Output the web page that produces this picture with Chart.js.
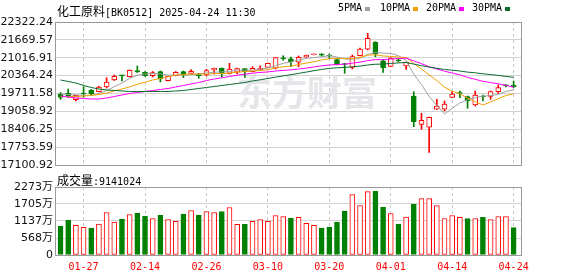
<!DOCTYPE html>
<html>
<head>
<meta charset="utf-8">
<script src="https://cdn.jsdelivr.net/npm/chart.js@4.4.1/dist/chart.umd.min.js"></script>
<style>
body { margin: 0; background: #fff; }
#wrap { position: relative; width: 578px; height: 276px; overflow: hidden; }
canvas { position: absolute; left: 0; }
.txt { position: absolute; white-space: nowrap; color: #000; line-height: 12px; z-index: 2; }
.cjk { font: 12px "Noto Sans CJK SC"; }
.mono { font: 10px "DejaVu Sans Mono"; }
.sq { position: absolute; width: 5px; height: 4px; z-index: 2; }
</style>
</head>
<body>
<div id="wrap">
    <canvas id="klineChart" width="578" height="176" style="top:0"></canvas>
    <canvas id="volumeChart" width="578" height="104" style="top:172px"></canvas>

    <div class="txt" style="left:57px;top:2px"><span class="cjk">化工原料</span><span class="mono">[BK0512] 2025-04-24 11:30</span></div>
    <div class="txt mono" style="left:338px;top:2px">5PMA</div>
    <div class="sq" style="left:365px;top:7px;background:#a0a0a0"></div>
    <div class="txt mono" style="left:380px;top:2px">10PMA</div>
    <div class="sq" style="left:413px;top:7px;background:#f0a000"></div>
    <div class="txt mono" style="left:426px;top:2px">20PMA</div>
    <div class="sq" style="left:459px;top:7px;background:#ff00ff"></div>
    <div class="txt mono" style="left:472px;top:2px">30PMA</div>
    <div class="sq" style="left:505px;top:7px;background:#0a6a30"></div>

    <div class="txt" style="left:57px;top:171px"><span class="cjk">成交量</span><span class="mono">:9141024</span></div>
</div>

<script>
const dates = ['01-22','01-23','01-24','01-27','02-05','02-06','02-07','02-10','02-11','02-12',
    '02-13','02-14','02-17','02-18','02-19','02-20','02-21','02-24','02-25','02-26',
    '02-27','02-28','03-03','03-04','03-05','03-06','03-07','03-10','03-11','03-12',
    '03-13','03-14','03-17','03-18','03-19','03-20','03-21','03-24','03-25','03-26',
    '03-27','03-28','03-31','04-01','04-02','04-03','04-07','04-08','04-09','04-10',
    '04-11','04-14','04-15','04-16','04-17','04-18','04-21','04-22','04-23','04-24'];

const openPrices = [19694,19719,19486,19694,19829,19778,19949,20205,20380,20325,
    20544,20497,20362,20508,20179,20362,20508,20449,20387,20387,
    20570,20632,20449,20486,20617,20508,20570,20668,20632,20980,
    20982,20851,21045,21125,21154,21118,20946,20789,20668,21092,
    21326,21592,20909,20698,20935,20716,19620,18587,18478,19135,
    19135,19573,19712,19602,19292,19602,19602,19778,19990,20022];
const highPrices = [19748,19876,19657,19960,19858,19986,20289,20387,20387,20570,
    20716,20515,20515,20533,20351,20515,20533,20581,20449,20595,
    20643,20643,20814,20643,20625,20690,20727,20826,21026,21092,
    21045,21081,21118,21154,21172,21154,20990,20814,21118,21373,
    21910,21603,20935,21019,20990,20862,19778,18989,18854,19500,
    19438,19778,19803,19620,19803,19657,19803,20022,20033,20168];
const lowPrices = [19493,19559,19438,19573,19657,19767,19913,20186,20168,20314,
    20479,20333,20314,20132,20168,20351,20289,20442,20267,20351,
    20424,20314,20424,20424,20303,20497,20552,20661,20606,20924,
    20690,20690,21026,21117,21081,20997,20752,20449,20606,21081,
    21300,21056,20479,20690,20862,20595,18500,18405,17558,19128,
    19073,19566,19559,19172,19256,19438,19500,19719,19949,19924];
const closePrices = [19566,19595,19646,19694,19694,19949,20132,20340,20358,20559,
    20497,20362,20471,20241,20340,20486,20387,20522,20362,20544,
    20632,20449,20606,20617,20508,20632,20643,20814,21019,20980,
    20873,21034,21107,21147,21107,21081,20763,20771,21056,21337,
    21727,21154,20654,21008,20909,20851,18682,18733,18843,19256,
    19321,19694,19712,19438,19657,19584,19785,19924,19990,19960];

const ma5 = [19694,19675,19657,19650,19639,19716,19821,19960,20095,20267,
    20376,20424,20449,20427,20384,20380,20384,20395,20420,20460,
    20490,20500,20519,20570,20563,20563,20603,20643,20723,20814,
    20862,20939,20997,21023,21052,21096,21041,20975,20957,21001,
    21132,21209,21187,21176,21092,20917,20420,20037,19602,19274,
    18967,19168,19365,19482,19562,19617,19635,19679,19785,19847];
const ma10 = [19602,19602,19602,19621,19639,19675,19730,19803,19876,19953,
    20048,20124,20205,20260,20325,20380,20406,20424,20424,20420,
    20435,20442,20457,20493,20511,20526,20552,20581,20647,20687,
    20712,20771,20822,20873,20935,20979,20990,20986,20990,21026,
    21114,21125,21081,21066,21044,21023,20814,20610,20391,20183,
    19942,19796,19701,19544,19416,19292,19402,19522,19635,19705];
const ma20 = [19621,19584,19548,19529,19511,19511,19548,19602,19657,19712,
    19748,19785,19821,19858,19894,19949,20004,20059,20113,20186,
    20241,20283,20333,20376,20417,20453,20479,20500,20533,20555,
    20574,20606,20639,20683,20723,20752,20771,20783,20818,20858,
    20913,20948,20950,20970,20990,21001,20902,20800,20690,20605,
    20526,20460,20391,20303,20230,20157,20110,20066,20011,19942];
const ma30 = [20205,20150,20095,20004,19931,19876,19840,19821,19803,19785,
    19785,19785,19785,19785,19785,19803,19821,19858,19894,19931,
    19967,20004,20040,20077,20113,20168,20212,20260,20307,20354,
    20398,20446,20493,20544,20590,20628,20650,20665,20687,20712,
    20752,20780,20785,20811,20829,20844,20785,20727,20676,20632,
    20588,20563,20533,20493,20466,20431,20402,20373,20336,20303];

// volume in 万
const volumes = [965,1165,988,922,899,1032,1421,1098,1198,1354,
    1398,1298,1221,1331,1188,1122,1364,1488,1331,1454,
    1421,1454,1587,1022,1022,1122,1188,1122,1321,1288,
    1231,1255,1055,988,899,932,1098,1464,2020,1654,
    2120,2130,1597,1388,1032,1265,1697,1887,1887,1654,
    1221,1321,1255,1221,1221,1255,1188,1288,1288,914.1024];

const priceTicks = [17100.92, 17753.59, 18406.25, 19058.92, 19711.58, 20364.24, 21016.91, 21669.57, 22322.24];
const volumeTicks = [0, 568, 1137, 1705, 2273];
const dateTicks = ['01-27', '02-14', '02-26', '03-10', '03-20', '04-01', '04-14', '04-24'];

const RED = '#ff0000';
const GREEN = '#008000';
const axisFont = { family: "'DejaVu Sans', 'Noto Sans CJK SC'", size: 11 };

function xScale(showLabels) {
    return {
        type: 'linear',
        min: -0.59,
        max: 60.09,
        offset: false,
        grid: { color: '#c8c8c8', drawTicks: false, offset: false },
        border: { display: false, dash: [3, 3] },
        ticks: {
            display: showLabels,
            autoSkip: false,
            maxRotation: 0,
            padding: 6,
            color: RED,
            font: { family: "'DejaVu Sans Mono'", size: 10 },
            callback: v => dates[v]
        },
        afterBuildTicks: axis => { axis.ticks = dateTicks.map(d => ({ value: dates.indexOf(d) })); },
        afterFit: axis => { axis.height = showLabels ? 21 : 0; }
    };
}

function yScale(min, max, ticks, fmt) {
    return {
        position: 'left',
        min: min,
        max: max,
        grid: { color: '#d4d4d4', drawTicks: false },
        border: { display: false },
        ticks: { padding: 3, color: '#111', font: axisFont, callback: fmt },
        afterBuildTicks: axis => { axis.ticks = ticks.map(v => ({ value: v })); },
        afterFit: axis => { axis.width = 56; }
    };
}

const framePlugin = {
    id: 'frame',
    afterDraw(chart) {
        const { ctx, chartArea: a } = chart;
        ctx.save();
        ctx.strokeStyle = '#999';
        ctx.lineWidth = 1;
        ctx.strokeRect(Math.round(a.left) - 0.5, Math.round(a.top) + 0.5,
            Math.round(a.right - a.left), Math.round(a.bottom - a.top));
        ctx.restore();
    }
};

const watermarkPlugin = {
    id: 'watermark',
    beforeDatasetsDraw(chart) {
        const ctx = chart.ctx;
        ctx.save();
        ctx.fillStyle = '#e6e6ea';
        ctx.font = 'bold 35px "Noto Sans CJK SC"';
        ctx.textBaseline = 'middle';
        ctx.fillText('东方财富', 237, 93);
        ctx.restore();
    }
};

function createChart(canvasId, config) {
    const canvas = document.getElementById(canvasId);
    if (canvas && typeof Chart !== 'undefined') {
        const ctx = canvas.getContext('2d');
        if (ctx) return new Chart(ctx, config);
    }
    return null;
}

const isUp = closePrices.map((c, i) => c > openPrices[i]);
const volUp = closePrices.map((c, i) => c >= openPrices[i]);

function maLine(values, color) {
    return {
        type: 'line',
        data: values.map((v, i) => ({ x: i, y: v })),
        borderColor: color,
        borderWidth: 1,
        pointRadius: 0,
        tension: 0,
        order: 1
    };
}

createChart('klineChart', {
    type: 'bar',
    data: {
        datasets: [
            {
                data: dates.map((d, i) => ({ x: i, y: [lowPrices[i], highPrices[i]] })),
                backgroundColor: isUp.map(u => u ? RED : GREEN),
                barThickness: 1,
                grouped: false,
                order: 3
            },
            {
                data: dates.map((d, i) => ({ x: i, y: [openPrices[i], closePrices[i]] })),
                backgroundColor: isUp.map(u => u ? '#fff' : GREEN),
                borderColor: isUp.map(u => u ? RED : GREEN),
                borderWidth: 1,
                borderSkipped: false,
                barThickness: 5,
                minBarLength: 1,
                grouped: false,
                order: 2
            },
            maLine(ma30, '#0a6a30'),
            maLine(ma20, '#ff00ff'),
            maLine(ma10, '#f0a000'),
            maLine(ma5, '#a0a0a0')
        ]
    },
    options: {
        responsive: false,
        animation: false,
        devicePixelRatio: 1,
        layout: { padding: { left: 0, right: 56, top: 22, bottom: 11 } },
        plugins: { legend: { display: false }, tooltip: { enabled: false } },
        scales: {
            x: xScale(false),
            y: yScale(17100.92, 22322.24, priceTicks, v => v.toFixed(2))
        }
    },
    plugins: [watermarkPlugin, framePlugin]
});

createChart('volumeChart', {
    type: 'bar',
    data: {
        datasets: [{
            data: volumes.map((v, i) => ({ x: i, y: v })),
            backgroundColor: volUp.map(u => u ? '#fff' : GREEN),
            borderColor: volUp.map(u => u ? RED : GREEN),
            borderWidth: 1,
            borderSkipped: false,
            barThickness: 5,
            grouped: false
        }]
    },
    options: {
        responsive: false,
        animation: false,
        devicePixelRatio: 1,
        layout: { padding: { left: 0, right: 56, top: 15, bottom: 0 } },
        plugins: { legend: { display: false }, tooltip: { enabled: false } },
        scales: {
            x: xScale(true),
            y: yScale(0, 2273, volumeTicks, v => v === 0 ? '0' : v + '万')
        }
    },
    plugins: [framePlugin]
});
</script>
</body>
</html>
